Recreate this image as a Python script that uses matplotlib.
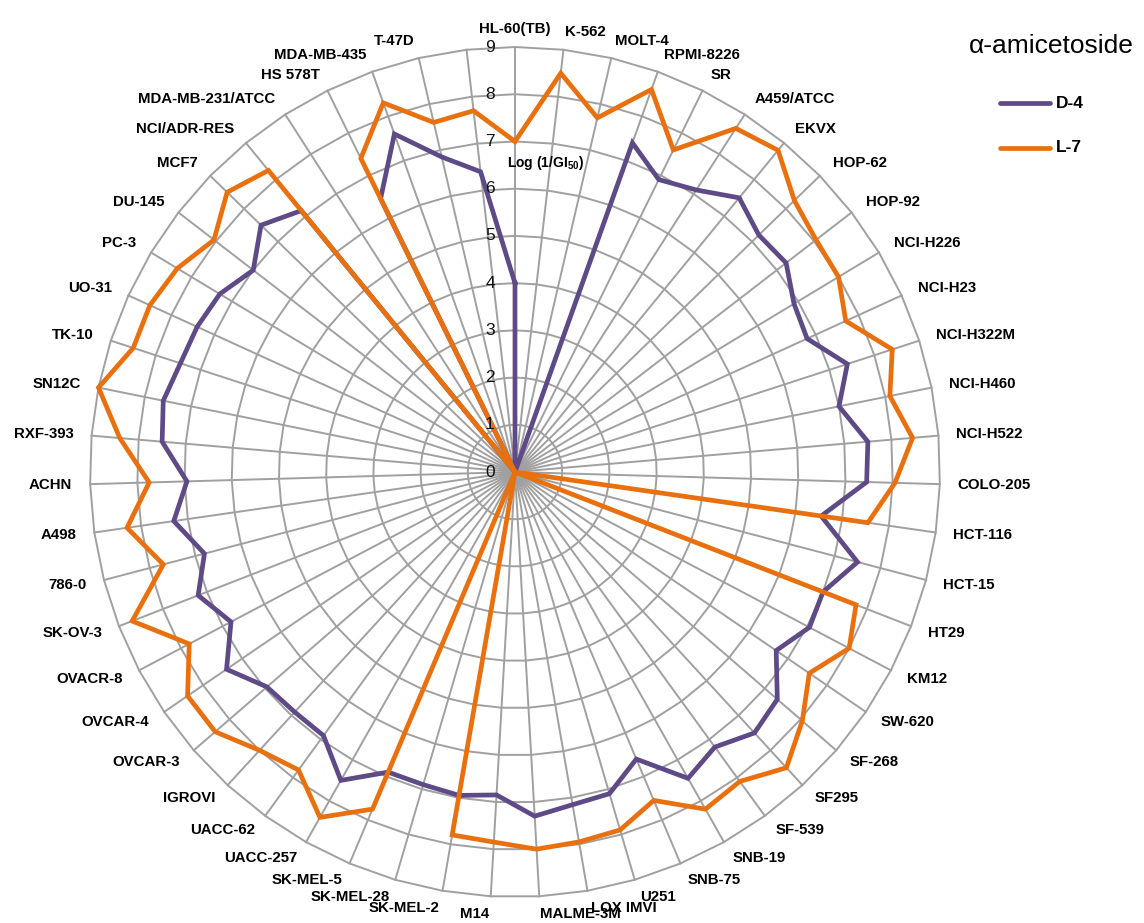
import numpy as np
import matplotlib
matplotlib.use("Agg")
import matplotlib.pyplot as plt
from matplotlib.lines import Line2D
from matplotlib.transforms import offset_copy
from matplotlib import font_manager

names = [f.name for f in font_manager.fontManager.ttflist]
LAB_FONT = 'Liberation Sans Narrow' if 'Liberation Sans Narrow' in names else 'Liberation Sans'
LAB_SIZE = 12 if LAB_FONT == 'Liberation Sans Narrow' else 10.8

plt.rcParams['font.family'] = ['Liberation Sans', 'DejaVu Sans']
plt.rcParams['mathtext.fontset'] = 'custom'
plt.rcParams['mathtext.rm'] = LAB_FONT + ':bold'
plt.rcParams['mathtext.default'] = 'rm'

categories = ["HL-60(TB)", "K-562", "MOLT-4", "RPMI-8226", "SR", "A459/ATCC", "EKVX",
              "HOP-62", "HOP-92", "NCI-H226", "NCI-H23", "NCI-H322M", "NCI-H460", "NCI-H522",
              "COLO-205", "HCT-116", "HCT-15", "HT29", "KM12", "SW-620", "SF-268", "SF295",
              "SF-539", "SNB-19", "SNB-75", "U251", "LOX IMVI", "MALME-3M", "M14", "SK-MEL-2",
              "SK-MEL-28", "SK-MEL-5", "UACC-257", "UACC-62", "IGROVI", "OVCAR-3", "OVCAR-4",
              "OVACR-8", "SK-OV-3", "786-0", "A498", "ACHN", "RXF-393", "SN12C", "TK-10",
              "UO-31", "PC-3", "DU-145", "MCF7", "NCI/ADR-RES", "MDA-MB-231/ATCC", "HS 578T",
              "MDA-MB-435", "T-47D", ""]

d4 = [4.0, 0, 0, 7.4, 6.9, 7.1, 7.5, 7.2, 7.25, 6.9, 6.8, 7.4, 7.0, 7.5,
      7.45, 6.55, 7.5, 7.0, 7.05, 6.7, 7.35, 7.5, 7.2, 7.45, 6.6, 7.1, 7.15, 7.3, 6.85, 6.95,
      6.9, 6.9, 7.5, 6.9, 6.9, 6.95, 7.4, 6.8, 7.2, 6.8, 7.3, 6.95, 7.5, 7.6, 7.45,
      7.4, 7.3, 7.0, 7.5, 7.15, 0, 6.45, 7.6, 6.85, 6.4]

l7 = [7.0, 8.5, 7.7, 8.6, 7.6, 8.65, 8.8, 8.25, 8.05, 8.0, 7.7, 8.4, 8.1, 8.45,
      8.05, 7.55, 0, 7.75, 8.0, 7.55, 8.05, 8.5, 8.1, 8.2, 7.55, 7.9, 7.95, 8.0, 7.85, 7.8,
      0, 7.75, 8.4, 7.8, 8.0, 8.4, 8.4, 7.8, 8.7, 7.7, 8.3, 7.75, 8.4, 9.0, 8.5,
      8.5, 8.35, 8.05, 8.5, 8.25, 0, 7.4, 8.3, 7.6, 7.7]

radial_ticks = [0, 1, 2, 3, 4, 5, 6, 7, 8, 9]
series_names = ["D-4", "L-7"]
legend_title = "\u03b1-amicetoside"

PURPLE = '#5E4A86'
ORANGE = '#E8700E'
GRID = '#a0a0a0'

W, H = 1144, 923
fig = plt.figure(figsize=(W / 100, H / 100), dpi=100)
cx, cy, R = 515, 472, 425
ax = fig.add_axes([(cx - R) / W, 1 - (cy + R) / H, 2 * R / W, 2 * R / H], projection='polar')
ax.set_theta_zero_location('N')
ax.set_theta_direction(-1)
ax.set_ylim(0, 9)
ax.set_axis_off()

N = len(categories)
theta = np.arange(N) * 2 * np.pi / N
tclosed = np.append(theta, theta[0])

# grid polygons and spokes
for r in radial_ticks[1:]:
    ax.plot(tclosed, [r] * (N + 1), color=GRID, lw=1.4, zorder=1, clip_on=False)
for t in theta:
    ax.plot([t, t], [0, 9], color=GRID, lw=1.4, zorder=1, clip_on=False)

# series
for vals, col, z in [(d4, PURPLE, 3), (l7, ORANGE, 4)]:
    v = np.append(vals, vals[0])
    ax.plot(tclosed, v, color=col, lw=3.4, zorder=z, clip_on=False,
            solid_joinstyle='miter')

# category labels
for t, lab in zip(theta, categories):
    deg = np.degrees(t)
    if abs(deg) < 1e-6 or abs(deg - 180) < 1e-6:
        ha = 'center'
    elif deg < 180:
        ha = 'left'
    else:
        ha = 'right'
    ax.text(t, 9.38, lab, ha=ha, va='center', fontsize=LAB_SIZE, fontweight='bold',
            family=LAB_FONT, color='black', clip_on=False, zorder=5)

# radial tick labels
tr = offset_copy(ax.transData, fig=fig, x=-25, y=0, units='dots')
for v in radial_ticks:
    ax.text(0, v, str(v), transform=tr, ha='center', va='center', fontsize=12.5,
            color='#111111', zorder=6)

tr2 = offset_copy(ax.transData, fig=fig, x=-8, y=0, units='dots')
ax.text(0, 6.55, r'Log (1/GI$_{50}$)', transform=tr2, ha='left', va='center',
        fontsize=10, fontweight='bold', family=LAB_FONT, zorder=6)

# legend (manual)
fig.text(1051 / W, 1 - 46 / H, legend_title, ha='center', va='center', fontsize=19)
for i, (name, col) in enumerate(zip(series_names, [PURPLE, ORANGE])):
    y = 1 - (103 + 45 * i) / H
    fig.add_artist(Line2D([1000 / W, 1050 / W], [y, y], color=col, lw=3.4,
                          solid_capstyle='round'))
    fig.text(1056 / W, y, name, ha='left', va='center', fontsize=12.5,
             fontweight='bold', family=LAB_FONT)

fig.savefig('out.png', dpi=100)
